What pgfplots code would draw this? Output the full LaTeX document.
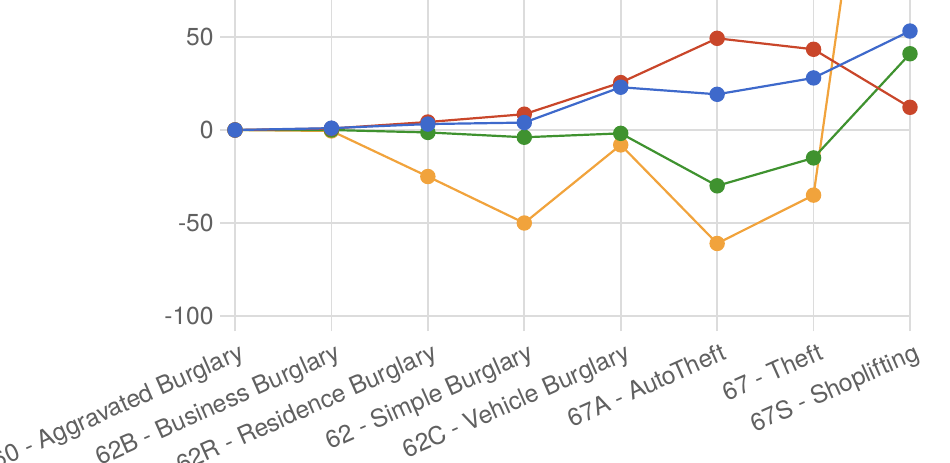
\documentclass[border=0pt]{standalone}
\usepackage{pgfplots}
\pgfplotsset{compat=1.18}
\usepackage{fontspec}
\setmainfont{TeX Gyre Heros}
\definecolor{cblue}{HTML}{3E69CB}
\definecolor{cred}{HTML}{C9462A}
\definecolor{corange}{HTML}{F1A33C}
\definecolor{cgreen}{HTML}{3F922F}
\definecolor{gridc}{HTML}{DCDCDC}
\definecolor{textc}{HTML}{606060}
\begin{document}
\begin{tikzpicture}
\begin{axis}[
  scale only axis, width=337.5pt, height=158pt,
  xmin=0, xmax=7, ymin=-100, ymax=69.9,
  axis line style={draw=none},
  xtick={0,...,7},
  xticklabels={60 - Aggravated Burglary, 62B - Business Burglary, 62R - Residence Burglary, 62 - Simple Burglary, 62C - Vehicle Burglary, 67A - AutoTheft, 67 - Theft, 67S - Shoplifting},
  ytick={-100,-50,0,50},
  xtick pos=bottom, ytick pos=left,
  tick align=outside,
  major tick length=7.5pt,
  tick style={draw=gridc, line width=0.8pt},
  grid=major,
  grid style={draw=gridc, line width=0.8pt},
  font=\fontsize{12.3}{14}\selectfont,
  tick label style={text=textc},
  xticklabel style={rotate=24, anchor=north east, inner sep=0pt, yshift=-5.5pt, xshift=-0.5pt},
  yticklabel style={anchor=east, inner sep=0pt, xshift=-3pt},
  /pgf/number format/assume math mode=true,
  every axis plot/.append style={line width=1.1pt, mark=*, mark size=3.3pt},
]
\addplot[corange, mark options={fill=corange, draw=corange}] coordinates {(0,0)(1,-0.5)(2,-25)(3,-50)(4,-8)(5,-61)(6,-35)(7,332)};
\addplot[cgreen, mark options={fill=cgreen, draw=cgreen}] coordinates {(0,0)(1,0)(2,-1.3)(3,-3.9)(4,-1.8)(5,-30)(6,-15)(7,41)};
\addplot[cred, mark options={fill=cred, draw=cred}] coordinates {(0,0)(1,0.8)(2,4.3)(3,8.5)(4,25.5)(5,49.3)(6,43.4)(7,12.2)};
\addplot[cblue, mark options={fill=cblue, draw=cblue}] coordinates {(0,0)(1,1)(2,3.2)(3,4)(4,23)(5,19.2)(6,28)(7,53.2)};
\end{axis}
\pgfresetboundingbox
\path[use as bounding box] ([xshift=-117.5pt,yshift=-73pt]current axis.south west) rectangle ([xshift=20pt]current axis.north east);
\end{tikzpicture}
\end{document}
